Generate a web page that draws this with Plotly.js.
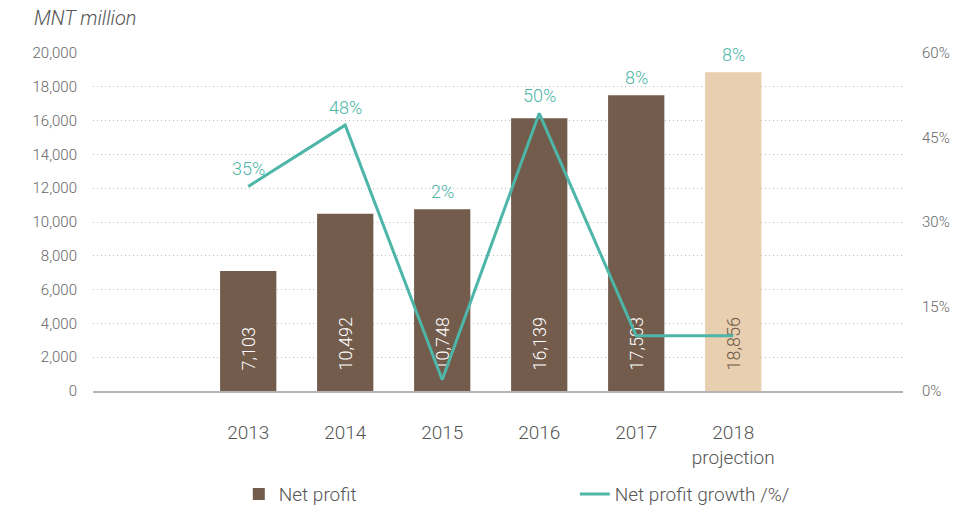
<!DOCTYPE html>
<html>
<head>
<meta charset="utf-8">
<script src="https://cdn.plot.ly/plotly-3.0.1.min.js"></script>
<style>
  html, body { margin: 0; padding: 0; background: #fff; }
  #chart { width: 974px; height: 511px; }
</style>
</head>
<body>
<div id="chart"></div>
<script>
// Net profit (MNT million) and growth
const years = ['2013', '2014', '2015', '2016', '2017', '2018<br>projection'];
const netProfit = [7103, 10492, 10748, 16139, 17503, 18856];
const growthLine = [36.3, 47.2, 2, 49.3, 9.8, 9.8];
const growthLabels = ['35%', '48%', '2%', '50%', '8%', '8%'];

const COLORS = {
  bar: '#735c4c',
  projection: '#e8cfb0',
  line: '#4db6a8',
  text: '#666666',
};

const FONT = "Roboto, 'Open Sans', sans-serif";
const LEFT_MAX = 20000;
const RIGHT_MAX = 60;
const PAD = '\u00a0\u00a0\u00a0\u00a0';

// label sits above whichever is higher: the line point or the bar top
const labelY = netProfit.map((v, i) => Math.max(v / LEFT_MAX * RIGHT_MAX, growthLine[i]));
const isLast = i => i === netProfit.length - 1;

const traces = [
  {
    x: years, y: netProfit,
    type: 'bar', name: 'Net profit',
    marker: { color: netProfit.map((_, i) => isLast(i) ? COLORS.projection : COLORS.bar) },
    width: 0.58,
    text: netProfit.map(v => PAD + v.toLocaleString('en-US')),
    textposition: 'inside',
    insidetextanchor: 'start',
    textangle: -90,
    constraintext: 'none',
    textfont: {
      family: FONT, size: 18, weight: 300,
      color: netProfit.map((_, i) => isLast(i) ? '#6f5a4a' : '#ffffff'),
    },
    hoverinfo: 'skip',
  },
  {
    x: years, y: growthLine,
    type: 'scatter', mode: 'lines',
    name: 'Net profit growth /%/',
    yaxis: 'y2',
    line: { color: COLORS.line, width: 3 },
    hoverinfo: 'skip',
  },
];

// growth labels (x by category index, since year strings read as numbers)
const growthAnnotations = years.map((_, i) => ({
  x: i, y: labelY[i], xref: 'x', yref: 'y2',
  text: growthLabels[i],
  showarrow: false,
  yshift: 18,
  font: { family: FONT, size: 18, weight: 300, color: COLORS.line },
}));

const layout = {
  width: 974, height: 511,
  font: { family: FONT, size: 14, weight: 300, color: COLORS.text },
  margin: { t: 53, r: 71, b: 120, l: 93, autoexpand: false },
  paper_bgcolor: '#ffffff',
  plot_bgcolor: '#ffffff',
  xaxis: {
    type: 'category',
    range: [-1.6, 6.75],
    showgrid: false,
    showline: true, linecolor: '#b5b5b5', linewidth: 1.5,
    ticks: '', ticklabelstandoff: 24,
    automargin: false,
    tickfont: { family: FONT, size: 19, weight: 300, color: '#555555' },
  },
  yaxis: {
    range: [0, LEFT_MAX],
    dtick: 2000,
    tickformat: ',d',
    showgrid: true, gridcolor: '#bdbdbd', griddash: '1px,3px', gridwidth: 1,
    zeroline: false,
    showline: false,
    automargin: false,
    ticks: '', ticklabelstandoff: 15,
    tickfont: { family: FONT, size: 15, weight: 300, color: '#666666' },
  },
  yaxis2: {
    overlaying: 'y', side: 'right',
    range: [0, RIGHT_MAX],
    dtick: 15,
    ticksuffix: '%',
    showgrid: false, zeroline: false, showline: false,
    automargin: false,
    ticks: '', ticklabelstandoff: 18,
    tickfont: { family: FONT, size: 15, weight: 300, color: '#666666' },
  },
  legend: {
    orientation: 'h',
    x: 0.18, xanchor: 'left',
    y: -0.305, yanchor: 'middle',
    entrywidth: 291,
    font: { family: FONT, size: 19, weight: 300, color: '#555555' },
  },
  annotations: [
    ...growthAnnotations,
    {
      text: '<i>MNT million</i>',
      xref: 'paper', yref: 'paper',
      x: -0.075, y: 1.104, xanchor: 'left', yanchor: 'middle',
      showarrow: false,
      font: { family: FONT, size: 20, color: '#555555' },
    },
  ],
};

Plotly.newPlot('chart', traces, layout, { displayModeBar: false, staticPlot: true });
</script>
</body>
</html>
